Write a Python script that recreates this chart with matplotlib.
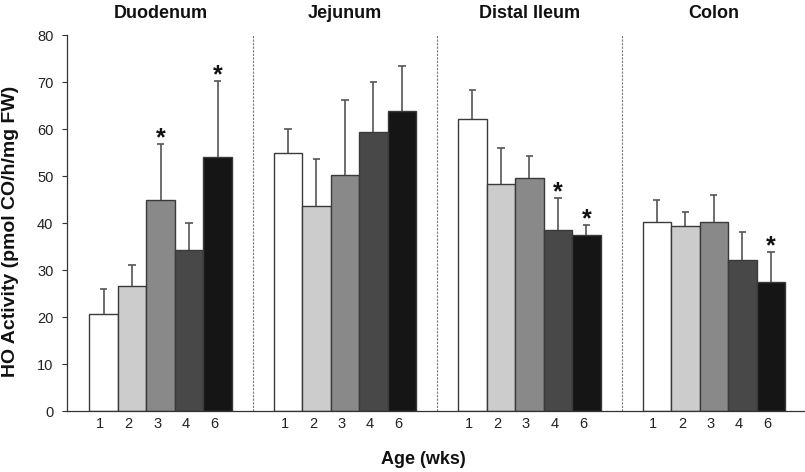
import numpy as np
import matplotlib
matplotlib.use('Agg')
import matplotlib.pyplot as plt

plt.rcParams['font.family'] = ['Liberation Sans', 'DejaVu Sans']

# Data
regions = ['Duodenum', 'Jejunum', 'Distal Ileum', 'Colon']
ages = ['1', '2', '3', '4', '6']
duodenum = [20.6, 26.6, 44.9, 34.3, 54.1]
duodenum_err = [5.4, 4.4, 12.0, 5.6, 16.2]
jejunum = [54.9, 43.7, 50.2, 59.4, 63.8]
jejunum_err = [5.2, 10.0, 15.9, 10.6, 9.7]
ileum = [62.1, 48.4, 49.5, 38.6, 37.4]
ileum_err = [6.2, 7.6, 4.7, 6.7, 2.2]
colon = [40.2, 39.4, 40.2, 32.1, 27.5]
colon_err = [4.6, 3.0, 5.8, 5.9, 6.3]
signif = [[2, 4], [], [3, 4], [4]]

means = [duodenum, jejunum, ileum, colon]
errs = [duodenum_err, jejunum_err, ileum_err, colon_err]
colors = ['#ffffff', '#cccccc', '#898989', '#484848', '#151515']

fig = plt.figure(figsize=(8.05, 4.72), dpi=100)
ax = fig.add_axes([0.0829, 0.1292, 0.9171, 0.7966])

group_step = 6.47
first = 1.29
for g in range(len(regions)):
    xs = first + g * group_step + np.arange(len(ages))
    m = np.array(means[g])
    tops = m + np.array(errs[g])
    # upper error bars only
    ax.vlines(xs, m, tops, color='#555555', linewidth=1.2, zorder=1)
    ax.hlines(tops, xs - 0.13, xs + 0.13, color='#555555', linewidth=1.2, zorder=1)
    ax.bar(xs, m, width=1.0, color=colors, edgecolor='#3a3a3a', linewidth=1.0, zorder=2)
    for i in signif[g]:
        ax.text(xs[i], tops[i] - 0.3, '*', ha='center', va='baseline',
                fontsize=18, fontweight='bold', color='#111111')
    ax.text(xs[2], 84.5, regions[g], ha='center', va='center', fontsize=13,
            fontweight='bold', color='#111111', clip_on=False)
    if g < len(regions) - 1:
        xd = xs[-1] + 0.5 + (group_step - 5) / 2
        ax.plot([xd, xd], [0, 80], color='#777777', linestyle=(0, (2, 1.2)), linewidth=0.8, zorder=0)

ticks = np.concatenate([first + g * group_step + np.arange(len(ages)) for g in range(len(regions))])
ax.set_xticks(ticks - 0.12)
ax.set_xticklabels(ages * len(regions))
ax.set_xlim(0, 25.9)
ax.set_ylim(0, 80)
ax.set_yticks(np.arange(0, 81, 10))
ax.tick_params(axis='x', length=0, pad=4, labelsize=10.5, labelcolor='#222222')
ax.tick_params(axis='y', length=3.6, width=0.8, pad=6, labelsize=10.5, labelcolor='#222222', color='#333333')
for s in ['top', 'right']:
    ax.spines[s].set_visible(False)
for s in ['left', 'bottom']:
    ax.spines[s].set_color('#333333')
    ax.spines[s].set_linewidth(0.9)

fig.text(423 / 805, 1 - 460 / 472, 'Age (wks)', ha='center', va='center', fontsize=13, fontweight='bold', color='#111111')
fig.text(11 / 805, 1 - 231 / 472, 'HO Activity (pmol CO/h/mg FW)', ha='center', va='center',
         rotation=90, fontsize=14, fontweight='bold', color='#111111')

fig.savefig('out.png', dpi=100)
